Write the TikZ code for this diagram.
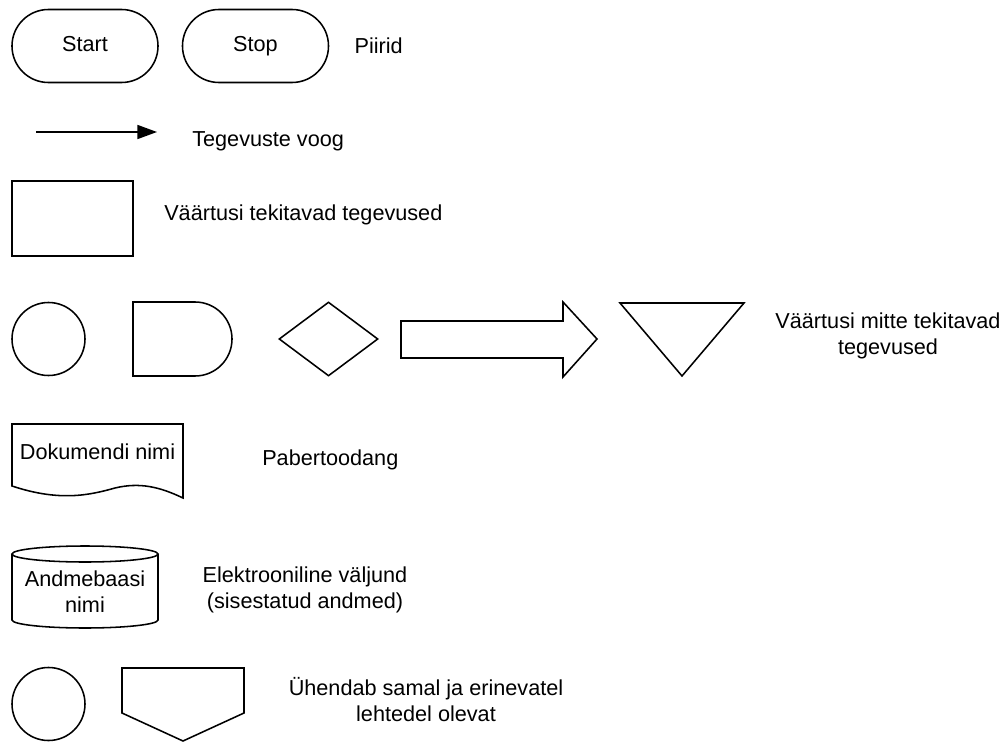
\documentclass[tikz,border=0pt]{standalone}
\usepackage{fontspec}
\setmainfont{Liberation Sans}
\usetikzlibrary{positioning, arrows.meta, shapes.misc, shapes.geometric}

\begin{document}
\begin{tikzpicture}[x=0.025cm, y=0.025cm,
	font=\fontsize{15.4pt}{18.5pt}\selectfont,
	sym/.style={draw, line width=1.1pt, inner sep=0pt},
	terminal/.style={sym, rounded rectangle, minimum width=3.65cm, minimum height=1.825cm,
		text height=11pt, text depth=2.5pt},
	legend/.style={anchor=west, inner sep=0pt},
	legendc/.style={inner sep=0pt, align=center},
	outline/.style={line width=1.1pt, line join=miter},
	arrow/.style={-{Triangle[length=14pt, width=10pt]}, line width=1.1pt}]
	
	\useasboundingbox (0,0) rectangle (1006,-742);
	
	% Piirid
	\node[terminal] (start_sym) at (85,-46) {Start};
	\node[terminal] (stop_sym) at (255.5,-46) {Stop};
	\node[legend, right=0.625cm of stop_sym] (bound_txt) {Piirid};
	
	% Tegevuste voog
	\coordinate (flow_a) at (36,-132);
	\coordinate (flow_b) at (157,-132);
	\draw[arrow] (flow_a) -- (flow_b);
	\node[legend] (flow_txt) at (192,-141) {Tegevuste voog};
	
	% Väärtust tekitavad
	\node[sym, minimum width=3.025cm, minimum height=1.875cm] (value_box) at (72.5,-218.5) {};
	\node[legend] (value_txt) at (164,-215) {Väärtusi tekitavad tegevused};
	
	% Väärtust mitte tekitavad
	\node[sym, circle, minimum size=1.825cm] (insp_sym) at (48.5,-339) {};
	\node[sym, rounded rectangle, rounded rectangle left arc=none,
		minimum width=2.475cm, minimum height=1.85cm] (delay_sym) at (182.5,-339) {};
	\node[sym, diamond, minimum width=2.475cm, minimum height=1.85cm] (dec_sym) at (328.5,-339) {};
	\draw[outline] (401,-321) -- (563,-321) -- (563,-302) -- (597,-339)
		-- (563,-377) -- (563,-358) -- (401,-358) -- cycle;
	\draw[outline] (620,-303) -- (744,-303) -- (682,-376) -- cycle;
	\node[legendc] (nonvalue_txt) at (888,-336) {Väärtusi mitte tekitavad\\tegevused};
	
	% Pabertoodang
	\draw[outline] (12,-424) -- (183,-424) -- (183,-498)
		.. controls (160,-487) and (140,-482) .. (115,-488)
		.. controls (90,-495) and (60,-502) .. (12,-486) -- cycle;
	\node[inner sep=0pt] (doc_txt) at (97.5,-452) {Dokumendi nimi};
	\node[legend] (paper_txt) at (262,-460) {Pabertoodang};
	
	% Elektrooniline väljund
	\draw[outline] (12,-554) -- (12,-620)
		arc[start angle=180, end angle=360, x radius=73, y radius=8] -- (158,-554);
	\draw[outline] (85,-554) ellipse[x radius=73, y radius=8];
	\node[legendc] (db_txt) at (85,-592) {Andmebaasi\\nimi};
	\node[legendc] (elec_txt) at (305,-590) {Elektrooniline väljund\\(sisestatud andmed)};
	
	% Ühendused
	\node[sym, circle, minimum size=1.825cm] (conn_sym) at (48.5,-704) {};
	\draw[outline] (122,-668) -- (244,-668) -- (244,-713) -- (183,-741) -- (122,-713) -- cycle;
	\node[legendc] (conn_txt) at (426,-700) {Ühendab samal ja erinevatel\\lehtedel olevat};
\end{tikzpicture}
\end{document}
